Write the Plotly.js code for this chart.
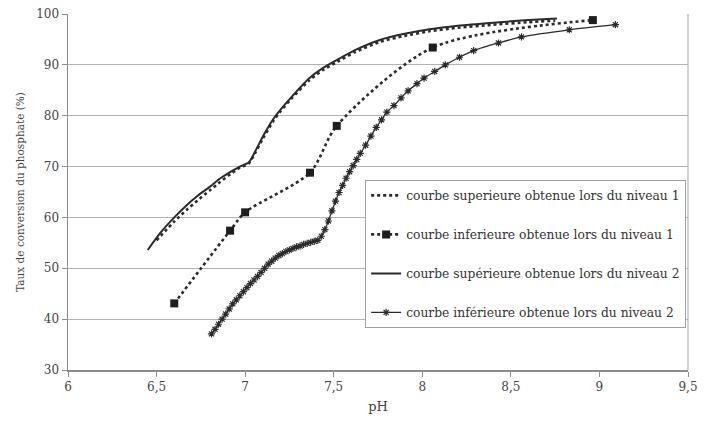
<!DOCTYPE html>
<html>
<head>
<meta charset="utf-8">
<script src="https://cdn.plot.ly/plotly-3.0.1.min.js"></script>
<style>html,body{margin:0;padding:0;background:#fff;}#chart{width:710px;height:424px;}</style>
</head>
<body>
<div id="chart"></div>
<script>
// Series names
var names = [
  "courbe superieure obtenue lors du niveau 1",
  "courbe inferieure obtenue lors du niveau 1",
  "courbe supérieure obtenue lors du niveau 2",
  "courbe inférieure obtenue lors du niveau 2"
];

// Upper curve, level 1 (dotted, no markers)
var sup1_pH   = [6.50, 6.60, 6.67, 6.73, 6.80, 6.86, 6.92, 6.97, 7.02, 7.06, 7.10, 7.16, 7.20, 7.26, 7.36, 7.44, 7.52, 7.62, 7.76, 7.90, 8.04, 8.20, 8.40, 8.60, 8.75];
var sup1_taux = [55.5, 59.2, 61.5, 63.3, 65.3, 67.0, 68.6, 69.8, 70.6, 72.9, 75.5, 79.0, 80.9, 83.3, 86.9, 89.0, 90.6, 92.5, 94.5, 95.7, 96.6, 97.3, 97.9, 98.4, 98.7];

// Lower curve, level 1 (dotted, square markers)
var inf1_pH   = [6.60, 6.915, 7.00, 7.366, 7.517, 8.059, 8.963];
var inf1_taux = [43.1, 57.4, 61.0, 68.8, 78.0, 93.4, 98.8];

// Upper curve, level 2 (solid)
var sup2_pH   = [6.45, 6.52, 6.60, 6.67, 6.73, 6.80, 6.86, 6.92, 6.97, 7.02, 7.06, 7.10, 7.16, 7.20, 7.26, 7.36, 7.44, 7.52, 7.62, 7.76, 7.90, 8.04, 8.20, 8.40, 8.60, 8.76];
var sup2_taux = [53.6, 56.9, 60.0, 62.4, 64.2, 66.0, 67.7, 69.0, 70.0, 70.8, 73.2, 75.9, 79.4, 81.2, 83.6, 87.3, 89.4, 91.0, 92.9, 94.9, 96.1, 97.0, 97.7, 98.3, 98.8, 99.1];

// Lower curve, level 2 (solid, star markers)
var inf2_pH   = [6.81, 6.83, 6.85, 6.87, 6.89, 6.91, 6.93, 6.95, 6.97, 6.99, 7.01, 7.03, 7.05, 7.07, 7.09, 7.11, 7.13, 7.15, 7.17, 7.19, 7.21, 7.23, 7.25, 7.27, 7.29, 7.31, 7.33, 7.35, 7.37, 7.39, 7.41, 7.43, 7.45, 7.47, 7.49, 7.51, 7.53, 7.55, 7.57, 7.59, 7.61, 7.63, 7.65, 7.68, 7.71, 7.74, 7.77, 7.80, 7.84, 7.88, 7.92, 7.97, 8.01, 8.07, 8.13, 8.21, 8.29, 8.43, 8.56, 8.83, 9.09];
var inf2_taux = [37.1, 38.0, 39.0, 40.0, 41.0, 42.0, 43.0, 43.8, 44.6, 45.4, 46.2, 47.0, 47.7, 48.4, 49.2, 50.0, 50.8, 51.4, 52.0, 52.5, 52.9, 53.3, 53.6, 53.9, 54.2, 54.4, 54.7, 54.9, 55.1, 55.3, 55.5, 56.3, 57.6, 59.3, 61.3, 63.2, 64.9, 66.3, 67.7, 69.0, 70.2, 71.4, 72.6, 74.2, 76.0, 77.7, 79.2, 80.7, 82.0, 83.5, 84.9, 86.3, 87.4, 88.7, 90.0, 91.5, 92.8, 94.3, 95.5, 96.9, 97.9];

// Axis ticks
var xTicks = [6, 6.5, 7, 7.5, 8, 8.5, 9, 9.5];
var xTickText = ["6", "6,5", "7", "7,5", "8", "8,5", "9", "9,5"];
var yTicks = [30, 40, 50, 60, 70, 80, 90, 100];

var serif = "DejaVu Serif";
var dark = "#2b2b2b";
var traces = [
  {x: sup1_pH, y: sup1_taux, name: names[0], legendgroup: "a", mode: "lines",
   line: {color: dark, width: 2.6, dash: "dot", shape: "spline", smoothing: 0.6}},
  {x: inf1_pH, y: inf1_taux, name: names[1], legendgroup: "b", mode: "lines+markers",
   line: {color: dark, width: 2.6, dash: "dot", shape: "spline", smoothing: 0.8},
   marker: {symbol: "square", size: 8, color: "#1e1e1e"}},
  {x: sup2_pH, y: sup2_taux, name: names[2], legendgroup: "c", mode: "lines",
   line: {color: dark, width: 2, shape: "spline", smoothing: 0.6}},
  {x: inf2_pH, y: inf2_taux, name: names[3], legendgroup: "d", mode: "lines+markers",
   line: {color: dark, width: 1.3, shape: "spline", smoothing: 0.6},
   marker: {symbol: "asterisk-open", size: 6, color: dark, line: {color: dark, width: 1.2}}}
];

var layout = {
  width: 710, height: 424,
  margin: {l: 68, r: 22, t: 14, b: 54},
  paper_bgcolor: "#fff", plot_bgcolor: "#fff",
  separators: ", ",
  font: {family: serif, size: 12, color: "#444"},
  showlegend: true,
  legend: {
    x: 0.997, xanchor: "right", y: 0.534, yanchor: "top",
    bgcolor: "#fff", bordercolor: "#a0a0a0", borderwidth: 1,
    font: {family: serif, size: 12.3, color: "#333"},
    traceorder: "grouped", tracegroupgap: 20
  },
  xaxis: {
    range: [6, 9.5], tickvals: xTicks, ticktext: xTickText,
    showgrid: false, zeroline: false,
    showline: true, linecolor: "#8c8c8c", linewidth: 1.5, mirror: false,
    ticks: "outside", ticklen: 5, tickcolor: "#8c8c8c",
    tickfont: {family: serif, size: 12, color: "#444"},
    title: {text: "pH", font: {family: serif, size: 13, color: "#444"}, standoff: 9}
  },
  yaxis: {
    range: [30, 100], tickvals: yTicks,
    showgrid: true, gridcolor: "#b4b4b4", gridwidth: 1.2, zeroline: false,
    showline: true, linecolor: "#8c8c8c", linewidth: 1.5,
    ticks: "outside", ticklen: 5, tickcolor: "#8c8c8c",
    tickfont: {family: serif, size: 12, color: "#444"},
    title: {text: "Taux de conversion du phosphate (%)", font: {family: serif, size: 10.5, color: "#444"}, standoff: 9}
  },
  shapes: [
    {type: "line", xref: "paper", yref: "paper", x0: 1, x1: 1, y0: 0, y1: 1,
     line: {color: "#b4b4b4", width: 1.2}}
  ]
};

Plotly.newPlot("chart", traces, layout, {displayModeBar: false, staticPlot: true});
</script>
</body>
</html>
